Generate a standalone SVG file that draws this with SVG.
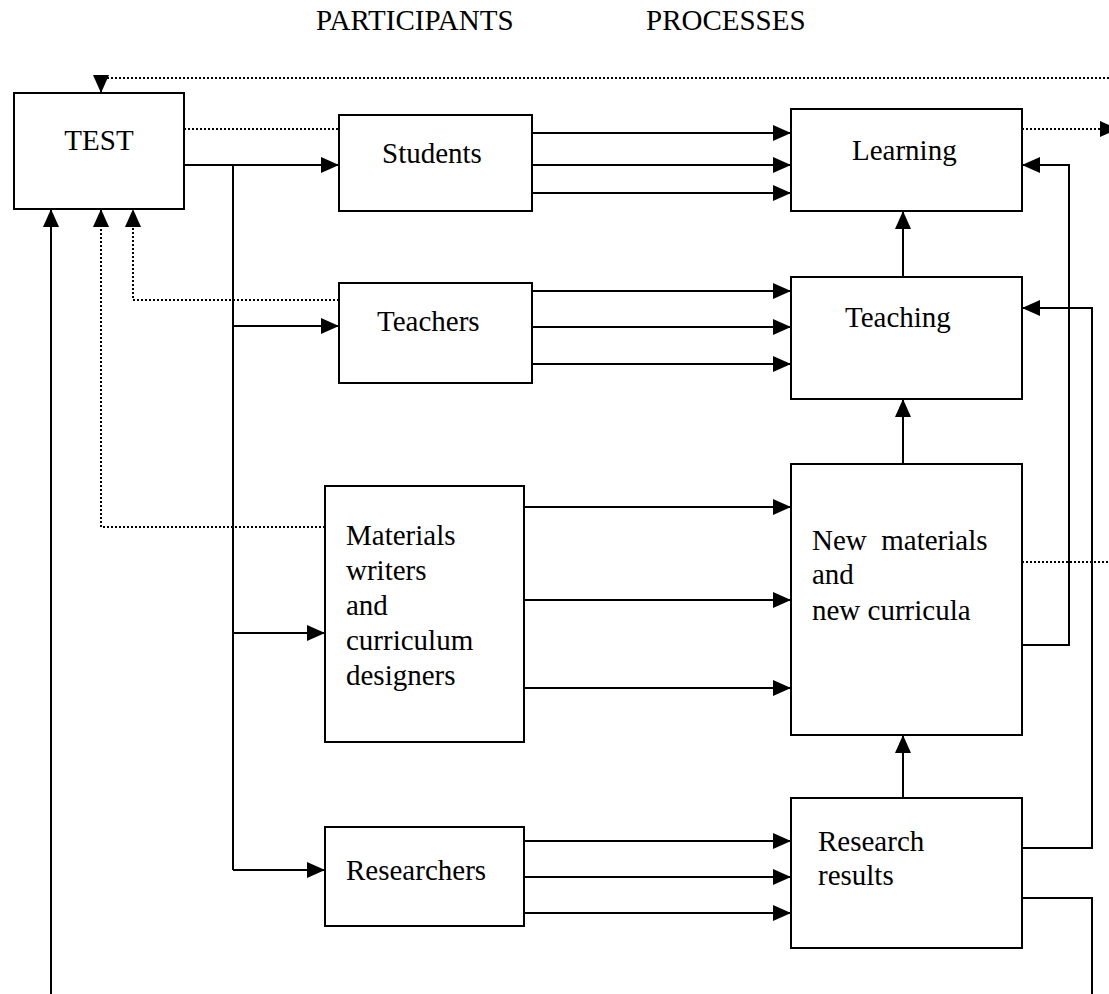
<svg xmlns="http://www.w3.org/2000/svg" width="1109" height="994" viewBox="0 0 1109 994">
<style>
.box{fill:#fff;stroke:#000;stroke-width:2}
.t{font-family:"Liberation Serif","Times New Roman",serif;font-size:29px;fill:#000}
.s{fill:none;stroke:#000;stroke-width:2}
.d{fill:none;stroke:#000;stroke-width:2;stroke-dasharray:2 2}
</style>
<defs>
<marker id="a" markerUnits="userSpaceOnUse" markerWidth="20" markerHeight="16" refX="18" refY="8" orient="auto">
<path d="M0,0 L18,8 L0,16 Z" fill="#000"/>
</marker>
</defs>
<rect width="1109" height="994" fill="#fff"/>
<text class="t" x="316" y="30">PARTICIPANTS</text>
<text class="t" x="646" y="30">PROCESSES</text>
<g id="connectors">
<path class="d" d="M1109,78 H101 V93" marker-end="url(#a)"/>
<path class="d" d="M184,129 H339"/>
<path class="d" d="M1022,129 H1118" marker-end="url(#a)"/>
<path class="d" d="M339,300 H133 V209" marker-end="url(#a)"/>
<path class="d" d="M325,527 H101 V209" marker-end="url(#a)"/>
<path class="d" d="M1022,562 H1109"/>
<path class="s" d="M184,165 H339" marker-end="url(#a)"/>
<path class="s" d="M233,165 V870"/>
<path class="s" d="M233,326 H339" marker-end="url(#a)"/>
<path class="s" d="M233,633 H325" marker-end="url(#a)"/>
<path class="s" d="M233,870 H325" marker-end="url(#a)"/>
<path class="s" d="M532,133 H791" marker-end="url(#a)"/>
<path class="s" d="M532,165 H791" marker-end="url(#a)"/>
<path class="s" d="M532,193 H791" marker-end="url(#a)"/>
<path class="s" d="M532,291 H791" marker-end="url(#a)"/>
<path class="s" d="M532,327 H791" marker-end="url(#a)"/>
<path class="s" d="M532,364 H791" marker-end="url(#a)"/>
<path class="s" d="M524,507 H791" marker-end="url(#a)"/>
<path class="s" d="M524,600 H791" marker-end="url(#a)"/>
<path class="s" d="M524,688 H791" marker-end="url(#a)"/>
<path class="s" d="M524,841 H791" marker-end="url(#a)"/>
<path class="s" d="M524,877 H791" marker-end="url(#a)"/>
<path class="s" d="M524,913 H791" marker-end="url(#a)"/>
<path class="s" d="M903,277 V211" marker-end="url(#a)"/>
<path class="s" d="M903,464 V399" marker-end="url(#a)"/>
<path class="s" d="M903,798 V735" marker-end="url(#a)"/>
<path class="s" d="M1022,645 H1069 V165 H1022" marker-end="url(#a)"/>
<path class="s" d="M1022,848 H1092 V308 H1022" marker-end="url(#a)"/>
<path class="s" d="M1022,898 H1092 V994"/>
<path class="s" d="M51,994 V209" marker-end="url(#a)"/>
</g>
<g id="test"><rect class="box" x="14" y="93" width="170" height="116"/><text class="t" x="99" y="150" text-anchor="middle">TEST</text></g>
<g id="students"><rect class="box" x="339" y="115" width="193" height="96"/><text class="t" x="382" y="163">Students</text></g>
<g id="teachers"><rect class="box" x="339" y="283" width="193" height="100"/><text class="t" x="377" y="331">Teachers</text></g>
<g id="materials"><rect class="box" x="325" y="486" width="199" height="256"/>
<text class="t" x="346" y="545">Materials</text><text class="t" x="346" y="580">writers</text><text class="t" x="346" y="615">and</text><text class="t" x="346" y="650">curriculum</text><text class="t" x="346" y="685">designers</text></g>
<g id="researchers"><rect class="box" x="325" y="827" width="199" height="99"/><text class="t" x="346" y="880">Researchers</text></g>
<g id="learning"><rect class="box" x="791" y="109" width="231" height="102"/><text class="t" x="852" y="160">Learning</text></g>
<g id="teaching"><rect class="box" x="791" y="277" width="231" height="122"/><text class="t" x="845" y="327">Teaching</text></g>
<g id="newmaterials"><rect class="box" x="791" y="464" width="231" height="271"/>
<text class="t" x="812" y="550" xml:space="preserve">New  materials</text><text class="t" x="812" y="584">and</text><text class="t" x="812" y="620">new curricula</text></g>
<g id="research"><rect class="box" x="791" y="798" width="231" height="150"/><text class="t" x="818" y="851">Research</text><text class="t" x="818" y="885">results</text></g>
</svg>
